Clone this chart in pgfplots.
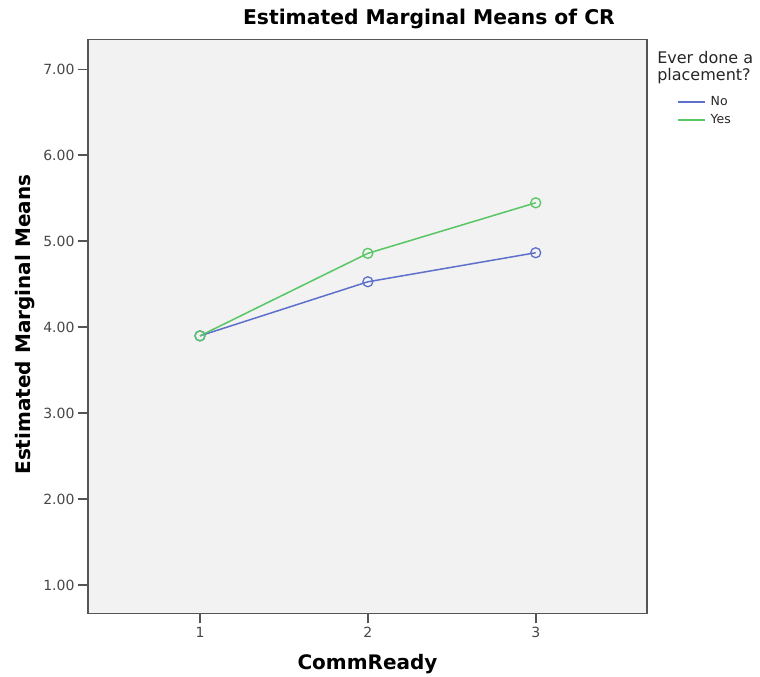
\documentclass[border=0pt]{standalone}
\usepackage{pgfplots}
\pgfplotsset{compat=1.18}
\usepackage{fontspec}
\setmainfont{DejaVu Sans}
\definecolor{noblue}{RGB}{92,112,204}
\definecolor{yesgreen}{RGB}{88,198,100}
\definecolor{axgray}{RGB}{85,85,85}
\definecolor{bggray}{RGB}{242,242,242}
\begin{document}
\begin{tikzpicture}[x=1pt,y=1pt]
\useasboundingbox (0,0) rectangle (760,677);
\begin{axis}[
  at={(88pt,63.7pt)}, anchor=south west,
  scale only axis, width=559pt, height=573.8pt,
  xmin=0.333, xmax=3.663, ymin=0.671, ymax=7.347,
  xtick={1,2,3}, ytick={1,2,3,4,5,6,7},
  yticklabel style={/pgf/number format/.cd, fixed, fixed zerofill, precision=2},
  /pgf/number format/assume math mode=true,
  tick align=outside, xtick pos=bottom, ytick pos=left,
  major tick length=10pt,
  tick style={axgray, line width=1.6pt},
  axis line style={axgray, line width=1.5pt},
  axis background/.style={fill=bggray},
  ticklabel style={font=\fontsize{14}{16}\selectfont, text=black!72},
  clip=false,
  legend style={at={(rel axis cs:1.0537,0.903)}, anchor=north west, draw=none, fill=none,
    font=\fontsize{12.5}{14}\selectfont, inner sep=0pt, row sep=5pt, column sep=4pt,
    nodes={inner sep=1pt, text height=9pt, text depth=2pt, text=black!85}},
  legend cell align=left,
  legend image code/.code={\draw[#1] (0pt,0pt) -- (27pt,0pt);},
]
\addlegendimage{noblue, line width=1.5pt}
\addlegendentry{No}
\addlegendimage{yesgreen, line width=1.5pt}
\addlegendentry{Yes}
\addplot[noblue, line width=1.5pt, mark=o, mark size=5pt, mark options={line width=1.3pt}, forget plot]
  coordinates {(1,3.899) (2,4.528) (3,4.866)};
\addplot[yesgreen, line width=1.5pt, mark=o, mark size=5pt, mark options={line width=1.3pt}, forget plot]
  coordinates {(1,3.899) (2,4.859) (3,5.447)};
\node[font=\bfseries\fontsize{20.3}{24}\selectfont] at (rel axis cs:0.610,1.0366) {Estimated Marginal Means of CR};
\node[font=\bfseries\fontsize{20}{24}\selectfont, rotate=90] at (rel axis cs:-0.1127,0.503) {Estimated Marginal Means};
\node[font=\bfseries\fontsize{20}{24}\selectfont] at (rel axis cs:0.5,-0.089) {CommReady};
\node[font=\fontsize{16}{17}\selectfont, align=left, anchor=north west, inner sep=0pt, text=black!85] at (rel axis cs:1.018,0.980) {Ever done a\\placement?};
\end{axis}
\end{tikzpicture}
\end{document}
